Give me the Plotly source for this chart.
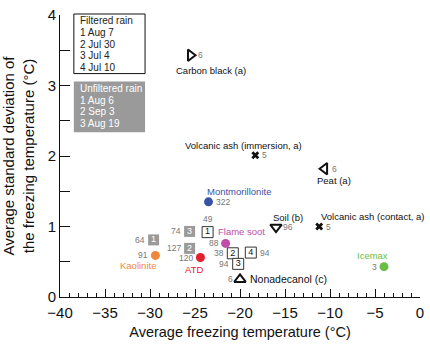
import plotly.graph_objects as go

FONT = "Liberation Sans, Arial, sans-serif"

# Reference substances
sub_names = ["Carbon black (a)", "Volcanic ash (immersion, a)", "Peat (a)", "Soil (b)",
             "Volcanic ash (contact, a)", "Montmorillonite", "Flame soot", "Icemax",
             "Kaolinite", "ATD", "Nonadecanol (c)"]
sub_x = [-25.5, -18.3, -10.6, -16.0, -11.2, -23.5, -21.6, -4.0, -29.4, -24.4, -20.0]
sub_y = [3.43, 2.01, 1.82, 0.99, 1.00, 1.35, 0.76, 0.43, 0.59, 0.56, 0.25]
sub_n = ["6", "5", "6", "96", "5", "322", "88", "3", "91", "120", "6"]
sub_symbol = ["triangle-right-open", "x", "triangle-left-open", "triangle-down-open", "x",
              "circle", "circle", "circle", "circle", "circle", "triangle-up-open"]
sub_color = ["#111111", "#111111", "#111111", "#111111", "#111111",
             "#3853a4", "#c04ea6", "#6cbd45", "#f0873a", "#e3202b", "#111111"]
sub_size = [10, 7, 10, 10, 7, 9, 9, 9, 9, 9, 10]
# label placement: (dx, dy, xanchor) for name; side for count
name_pos = [(20, 15, "center"), (-12, -10, "center"), (9, 12, "center"), (12, -10, "center"),
            (0, -10, "left"), (30, -10, "center"), (16, -12, "center"), (-12, -11, "center"),
            (-17, 10, "center"), (-6, 12, "center"), (8, 0, "left")]
count_side = ["right", "right", "right", "right", "right", "right", "left", "left",
              "left", "left", "left"]
name_color = ["#111111", "#111111", "#111111", "#111111", "#111111",
              "#3853a4", "#c04ea6", "#6cbd45", "#f0873a", "#e3202b", "#111111"]

# Rain samples
unf_id = ["1", "2", "3"]
unf_x = [-29.6, -25.6, -25.6]
unf_y = [0.81, 0.69, 0.93]
unf_n = ["64", "127", "74"]

fil_id = ["1", "2", "3", "4"]
fil_x = [-23.6, -20.8, -20.2, -18.8]
fil_y = [0.92, 0.62, 0.47, 0.63]
fil_n = ["49", "38", "94", "94"]
fil_side = ["top", "left", "left", "right"]

filtered_legend = ["Filtered rain", "1 Aug 7", "2 Jul 30", "3 Jul 4", "4 Jul 10"]
unfiltered_legend = ["Unfiltered rain", "1 Aug 6", "2 Sep 3", "3 Aug 19"]

fig = go.Figure()

for i in range(len(sub_names)):
    open_sym = "open" in sub_symbol[i]
    fig.add_trace(go.Scatter(
        x=[sub_x[i]], y=[sub_y[i]], mode="markers",
        marker=dict(symbol=sub_symbol[i], size=sub_size[i], color=sub_color[i],
                    line=dict(width=2 if open_sym else 0, color=sub_color[i])),
        showlegend=False, hoverinfo="skip"))

fig.add_trace(go.Scatter(
    x=unf_x, y=unf_y, mode="markers+text", text=unf_id, textposition="middle center",
    textfont=dict(family=FONT, size=9, color="white"),
    marker=dict(symbol="square", size=11, color="#9a9a9a", line=dict(width=0)),
    showlegend=False, hoverinfo="skip"))
fig.add_trace(go.Scatter(
    x=fil_x, y=fil_y, mode="markers+text", text=fil_id, textposition="middle center",
    textfont=dict(family=FONT, size=9, color="#111111"),
    marker=dict(symbol="square", size=11, color="white", line=dict(width=1, color="#333333")),
    showlegend=False, hoverinfo="skip"))

ann = []
for i in range(len(sub_names)):
    dx, dy, xa = name_pos[i]
    fs = 10.5 if i == 10 else 9.5
    ann.append(dict(x=sub_x[i], y=sub_y[i], text=sub_names[i], showarrow=False,
                    xshift=dx, yshift=-dy, xanchor=xa, yanchor="middle",
                    font=dict(family=FONT, size=fs, color=name_color[i])))
    if count_side[i] == "right":
        ann.append(dict(x=sub_x[i], y=sub_y[i], text=sub_n[i], showarrow=False,
                        xshift=5, xanchor="left", yanchor="middle",
                        font=dict(family=FONT, size=8.5, color="#777777")))
    else:
        ann.append(dict(x=sub_x[i], y=sub_y[i], text=sub_n[i], showarrow=False,
                        xshift=-5, xanchor="right", yanchor="middle",
                        font=dict(family=FONT, size=8.5, color="#777777")))

for i in range(len(unf_id)):
    ann.append(dict(x=unf_x[i], y=unf_y[i], text=unf_n[i], showarrow=False,
                    xshift=-7, xanchor="right", yanchor="middle",
                    font=dict(family=FONT, size=8.5, color="#777777")))
for i in range(len(fil_id)):
    s = fil_side[i]
    if s == "top":
        d = dict(xshift=0, yshift=6, xanchor="center", yanchor="bottom")
    elif s == "left":
        d = dict(xshift=-7, xanchor="right", yanchor="middle")
    else:
        d = dict(xshift=7, xanchor="left", yanchor="middle")
    ann.append(dict(x=fil_x[i], y=fil_y[i], text=fil_n[i], showarrow=False,
                    font=dict(family=FONT, size=8.5, color="#777777"), **d))

# legend boxes (pixel layout -> paper coords)
PL, PW, PB, PH = 60, 364, 297, 284
def px(v):
    return (v - PL) / PW
def py(v):
    return (PB - v) / PH

shapes = [
    dict(type="rect", xref="paper", yref="paper", x0=px(74), x1=px(146), y0=py(72), y1=py(12),
         line=dict(color="#111111", width=1), fillcolor="white", layer="below"),
    dict(type="rect", xref="paper", yref="paper", x0=px(74), x1=px(146), y0=py(131), y1=py(80),
         line=dict(width=0), fillcolor="#9a9a9a", layer="below"),
]
for k, t in enumerate(filtered_legend):
    ann.append(dict(xref="paper", yref="paper", x=px(78), y=py(19 + 11.7 * k),
                    xanchor="left", yanchor="middle", showarrow=False, text=t,
                    font=dict(family=FONT, size=10, color="#222222")))
for k, t in enumerate(unfiltered_legend):
    ann.append(dict(xref="paper", yref="paper", x=px(78), y=py(87 + 11.7 * k),
                    xanchor="left", yanchor="middle", showarrow=False, text=t,
                    font=dict(family=FONT, size=10, color="white")))

fig.update_layout(
    width=430, height=349,
    margin=dict(l=60, r=6, t=13, b=52),
    paper_bgcolor="white", plot_bgcolor="white",
    font=dict(family=FONT, color="#111111"),
    annotations=ann, shapes=shapes,
    xaxis=dict(range=[-40, 0], dtick=5, tick0=0, showgrid=False, zeroline=False,
               showline=True, linecolor="#111111", linewidth=1,
               ticks="inside", ticklen=8, tickcolor="#111111", tickwidth=1,
               minor=dict(dtick=1, ticks="inside", ticklen=4, tickcolor="#111111", tickwidth=1),
               tickfont=dict(family=FONT, size=15), ticklabelstandoff=2,
               title=dict(text="Average freezing temperature (°C)", standoff=6,
                          font=dict(family=FONT, size=14.5))),
    yaxis=dict(range=[0, 4], dtick=1, showgrid=False, zeroline=False,
               showline=True, linecolor="#111111", linewidth=1,
               ticks="inside", ticklen=10, tickcolor="#111111", tickwidth=1,
               minor=dict(dtick=0.5, ticks="inside", ticklen=10, tickcolor="#111111", tickwidth=1),
               tickfont=dict(family=FONT, size=15),
               title=dict(text="Average standard deviation of<br>the freezing temperature (°C)",
                          standoff=10, font=dict(family=FONT, size=15))),
)

fig.write_html("out.html")
